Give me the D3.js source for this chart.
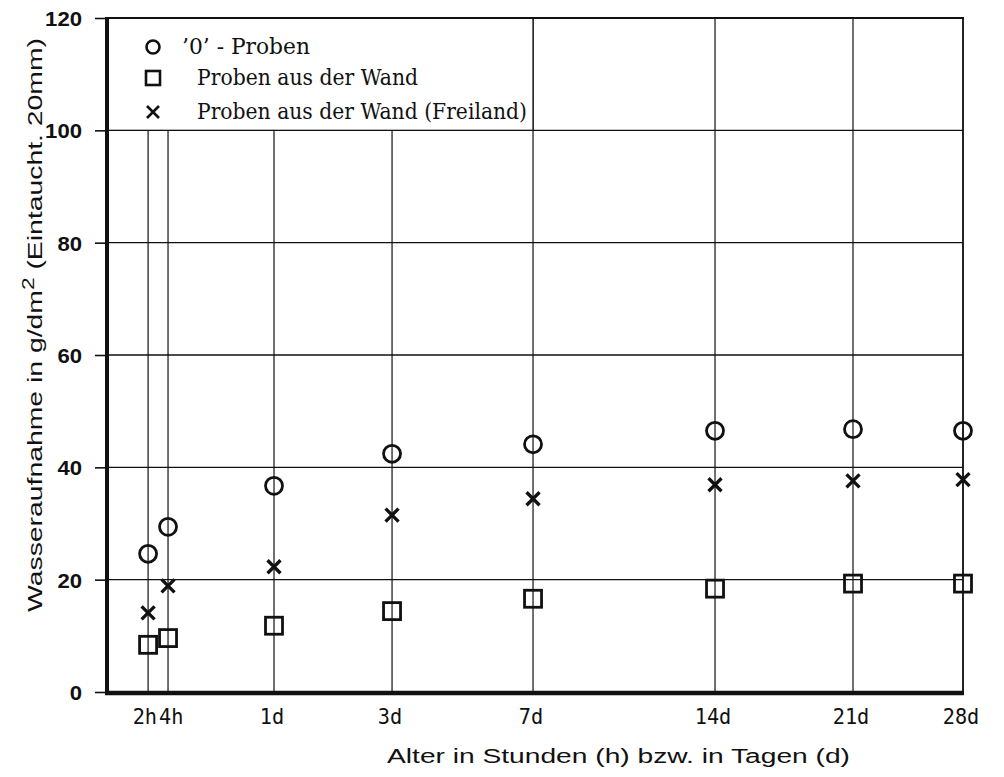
<!DOCTYPE html>
<html>
<head>
<meta charset="utf-8">
<script src="https://cdn.jsdelivr.net/npm/d3@7"></script>
<style>
  html, body { margin: 0; padding: 0; background: #fff; }
  svg { display: block; }
</style>
</head>
<body>
<svg id="chart" width="1004" height="777"></svg>
<script>
// ---- data ----
const categories = ["2h", "4h", "1d", "3d", "7d", "14d", "21d", "28d"];
const hours = [2, 4, 24, 72, 168, 336, 504, 672];
const nullProben = [24.6, 29.4, 36.7, 42.4, 44.1, 46.5, 46.8, 46.5];
const wandProben = [8.4, 9.6, 11.8, 14.4, 16.6, 18.4, 19.3, 19.3];
const freilandProben = [14.1, 18.9, 22.3, 31.5, 34.4, 36.9, 37.6, 37.8];
const yTicks = [0, 20, 40, 60, 80, 100, 120];
const seriesNames = ["\u20190\u2019 - Proben", "Proben aus der Wand", "Proben aus der Wand (Freiland)"];
const xTitle = "Alter in Stunden (h) bzw. in Tagen (d)";
const yTitleMain = "Wasseraufnahme in g/dm";
const yTitleSup = "2";
const yTitleEnd = " (Eintaucht. 20mm)";

// ---- layout ----
const svg = d3.select("#chart");
const m = { left: 107, right: 963, top: 18, bottom: 692 };
const w = m.right - m.left;
// hand-drawn, non-uniform time axis: fractions of plot width per category
const xFrac = [0.048, 0.0713, 0.1951, 0.333, 0.4977, 0.7103, 0.8715, 1.0];
const x = d3.scaleLinear().domain(hours).range(xFrac.map(f => m.left + f * w));
const y = d3.scaleLinear().domain([0, 120]).range([m.bottom, m.top]);

svg.append("rect").attr("width", 1004).attr("height", 777).attr("fill", "#fff");

const ink = "#111";

// horizontal grid lines
svg.append("g").selectAll("line").data(yTicks.filter(t => t > 0 && t < 120)).join("line")
  .attr("x1", m.left).attr("x2", m.right)
  .attr("y1", d => y(d)).attr("y2", d => y(d))
  .attr("stroke", ink).attr("stroke-width", 1.3);

// vertical grid lines
svg.append("g").selectAll("line").data(hours).join("line")
  .attr("x1", d => x(d)).attr("x2", d => x(d))
  .attr("y1", m.bottom).attr("y2", m.top)
  .attr("stroke", ink).attr("stroke-width", 1.2);

// legend box (covers grid)
const legendRight = x(168);
svg.append("rect")
  .attr("x", m.left).attr("y", m.top)
  .attr("width", legendRight - m.left).attr("height", y(100) - m.top)
  .attr("fill", "#fff").attr("stroke", ink).attr("stroke-width", 1.3);

// top and right borders
svg.append("line").attr("x1", m.left).attr("x2", m.right + 1).attr("y1", m.top).attr("y2", m.top)
  .attr("stroke", ink).attr("stroke-width", 2);
svg.append("line").attr("x1", m.right).attr("x2", m.right).attr("y1", m.top).attr("y2", m.bottom)
  .attr("stroke", ink).attr("stroke-width", 1.6);

// y axis with ticks
const yAxis = d3.axisLeft(y).tickValues(yTicks).tickSize(12).tickPadding(13);
const gy = svg.append("g").attr("transform", `translate(${m.left},0)`).call(yAxis);
gy.select(".domain").remove();
gy.selectAll(".tick line").attr("stroke", ink).attr("stroke-width", 1.6);
gy.selectAll(".tick text")
  .attr("font-family", "'Liberation Sans', Arial, sans-serif")
  .attr("font-size", 21).attr("font-weight", "bold").attr("fill", ink)
  .attr("dy", "0.36em")
  .attr("textLength", d => String(d).length * 12.3)
  .attr("lengthAdjust", "spacingAndGlyphs");

// thick axis lines
svg.append("line").attr("x1", m.left).attr("x2", m.left).attr("y1", m.top - 1).attr("y2", m.bottom + 2)
  .attr("stroke", ink).attr("stroke-width", 4);
svg.append("line").attr("x1", m.left - 2).attr("x2", m.right + 1).attr("y1", m.bottom + 1).attr("y2", m.bottom + 1)
  .attr("stroke", ink).attr("stroke-width", 4.5);

// x tick labels
const labelFont = "'DejaVu Sans Mono', 'Liberation Mono', monospace";
const mid01 = (x(hours[0]) + x(hours[1])) / 2;
svg.append("g").selectAll("text").data(categories).join("text")
  .attr("x", (d, i) => i === 0 ? mid01 - 1 : i === 1 ? mid01 + 1 : x(hours[i]) - 2)
  .attr("y", 724)
  .attr("text-anchor", (d, i) => i === 0 ? "end" : i === 1 ? "start" : "middle")
  .attr("font-family", labelFont).attr("font-size", 21).attr("fill", ink)
  .attr("textLength", d => d.length * 12.2)
  .attr("lengthAdjust", "spacingAndGlyphs")
  .text(d => d);

// x title
svg.append("text")
  .attr("x", 387).attr("y", 763)
  .attr("font-family", "'Liberation Sans', Arial, sans-serif")
  .attr("font-size", 20).attr("fill", ink)
  .attr("textLength", 463).attr("lengthAdjust", "spacingAndGlyphs")
  .text(xTitle);

// y title
const yt = svg.append("text")
  .attr("transform", "translate(42,612) rotate(-90)")
  .attr("font-family", "'Liberation Sans', Arial, sans-serif")
  .attr("font-size", 20).attr("fill", ink)
  .attr("textLength", 574).attr("lengthAdjust", "spacingAndGlyphs");
yt.append("tspan").text(yTitleMain);
yt.append("tspan").attr("dy", -8).attr("font-size", 16).text(yTitleSup);
yt.append("tspan").attr("dy", 8).text(yTitleEnd);

// markers
const gm = svg.append("g");
function drawCircle(g, cx, cy, r, sw) {
  g.append("circle").attr("cx", cx).attr("cy", cy).attr("r", r)
    .attr("fill", "none").attr("stroke", ink).attr("stroke-width", sw);
}
function drawSquare(g, cx, cy, s, sw) {
  g.append("rect").attr("x", cx - s / 2).attr("y", cy - s / 2).attr("width", s).attr("height", s)
    .attr("fill", "none").attr("stroke", ink).attr("stroke-width", sw);
}
function drawCross(g, cx, cy, h, sw) {
  g.append("path").attr("d", `M${cx - h},${cy - h}L${cx + h},${cy + h}M${cx - h},${cy + h}L${cx + h},${cy - h}`)
    .attr("fill", "none").attr("stroke", ink).attr("stroke-width", sw);
}

gm.selectAll("circle.p").data(nullProben).join("circle").attr("class", "p")
  .attr("cx", (d, i) => x(hours[i])).attr("cy", d => y(d)).attr("r", 8.5)
  .attr("fill", "none").attr("stroke", ink).attr("stroke-width", 2.8);
gm.selectAll("rect.p").data(wandProben).join("rect").attr("class", "p")
  .attr("x", (d, i) => x(hours[i]) - 8.5).attr("y", d => y(d) - 8.5)
  .attr("width", 17).attr("height", 17)
  .attr("fill", "none").attr("stroke", ink).attr("stroke-width", 2.8);
gm.selectAll("path.p").data(freilandProben).join("path").attr("class", "p")
  .attr("d", (d, i) => {
    const cx = x(hours[i]), cy = y(d), h = 6.5;
    return `M${cx - h},${cy - h}L${cx + h},${cy + h}M${cx - h},${cy + h}L${cx + h},${cy - h}`;
  })
  .attr("fill", "none").attr("stroke", ink).attr("stroke-width", 3.3);

// legend
const lg = svg.append("g");
const rows = [47, 78, 112];
drawCircle(lg, 153, rows[0], 6.5, 2.6);
drawSquare(lg, 153, rows[1], 14, 2.6);
drawCross(lg, 153, rows[2], 6, 2.6);
const legendX = [182, 197, 197];
const legendW = [128, 221, 330];
lg.selectAll("text").data(seriesNames).join("text")
  .attr("x", (d, i) => legendX[i]).attr("y", (d, i) => rows[i] + 7)
  .attr("font-family", "'DejaVu Serif', 'Liberation Serif', serif")
  .attr("font-size", 22).attr("fill", ink)
  .attr("textLength", (d, i) => legendW[i]).attr("lengthAdjust", "spacingAndGlyphs")
  .text(d => d);
</script>
</body>
</html>
